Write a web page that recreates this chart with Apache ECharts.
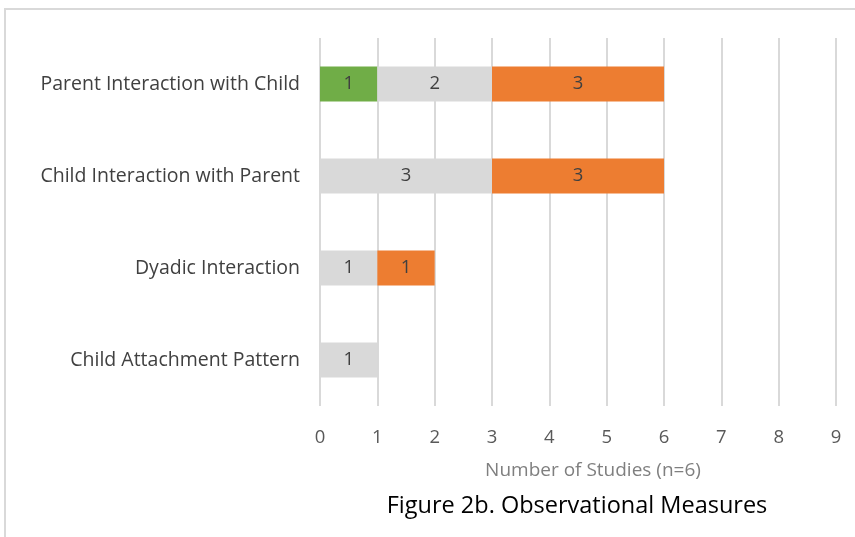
<!DOCTYPE html>
<html><head><meta charset="utf-8">
<script src="https://cdn.jsdelivr.net/npm/echarts@6/dist/echarts.min.js"></script>
<style>html,body{margin:0;padding:0;background:#fff}#c{width:855px;height:537px}</style>
</head><body><div id="c"></div>
<script>
const categories = ['Parent Interaction with Child','Child Interaction with Parent','Dyadic Interaction','Child Attachment Pattern'];
const greenValues = [1, null, null, null];
const grayValues = [2, 3, 1, 1];
const orangeValues = [3, 3, 1, null];
const xTicks = [0,1,2,3,4,5,6,7,8,9];
const axisTitle = 'Number of Studies (n=6)';
const caption = 'Figure 2b. Observational Measures';

const font = '"Open Sans", sans-serif';
const chart = echarts.init(document.getElementById('c'));
const lbl = {show:true, position:'inside', color:'#404040', fontSize:18.5, fontFamily:font};
chart.setOption({
  animation:false,
  graphic:[
    {type:'rect', shape:{x:5,y:9,width:900,height:600}, style:{fill:'none', stroke:'#d9d9d9', lineWidth:2}, z:-1},
    {type:'text', style:{text:caption, x:577, y:506, textAlign:'center', textVerticalAlign:'middle', fontSize:23.5, fontFamily:font, fill:'#000'}}
  ],
  grid:{left:320, right:19, top:38, bottom:131, containLabel:false},
  xAxis:{type:'value', min:xTicks[0], max:xTicks[xTicks.length-1], interval:1,
    axisLine:{show:false}, axisTick:{show:false},
    splitLine:{show:true, lineStyle:{color:'#d9d9d9', width:2}},
    axisLabel:{color:'#595959', fontSize:18.5, fontFamily:font, margin:22},
    name:axisTitle, nameLocation:'middle', nameGap:55,
    nameTextStyle:{color:'#7f7f7f', fontSize:19, fontFamily:font, padding:[0,0,0,30]}},
  yAxis:{type:'category', data:categories, inverse:true,
    axisLine:{show:false}, axisTick:{show:false},
    axisLabel:{color:'#404040', fontSize:19.5, fontFamily:font, margin:20}},
  series:[
    {name:'Green', type:'bar', stack:'s', data:greenValues, barWidth:35, itemStyle:{color:'#70ad47'}, label:lbl},
    {name:'Gray', type:'bar', stack:'s', data:grayValues, barWidth:35, itemStyle:{color:'#d9d9d9'}, label:lbl},
    {name:'Orange', type:'bar', stack:'s', data:orangeValues, barWidth:35, itemStyle:{color:'#ed7d31'}, label:lbl}
  ]
});
</script></body></html>
